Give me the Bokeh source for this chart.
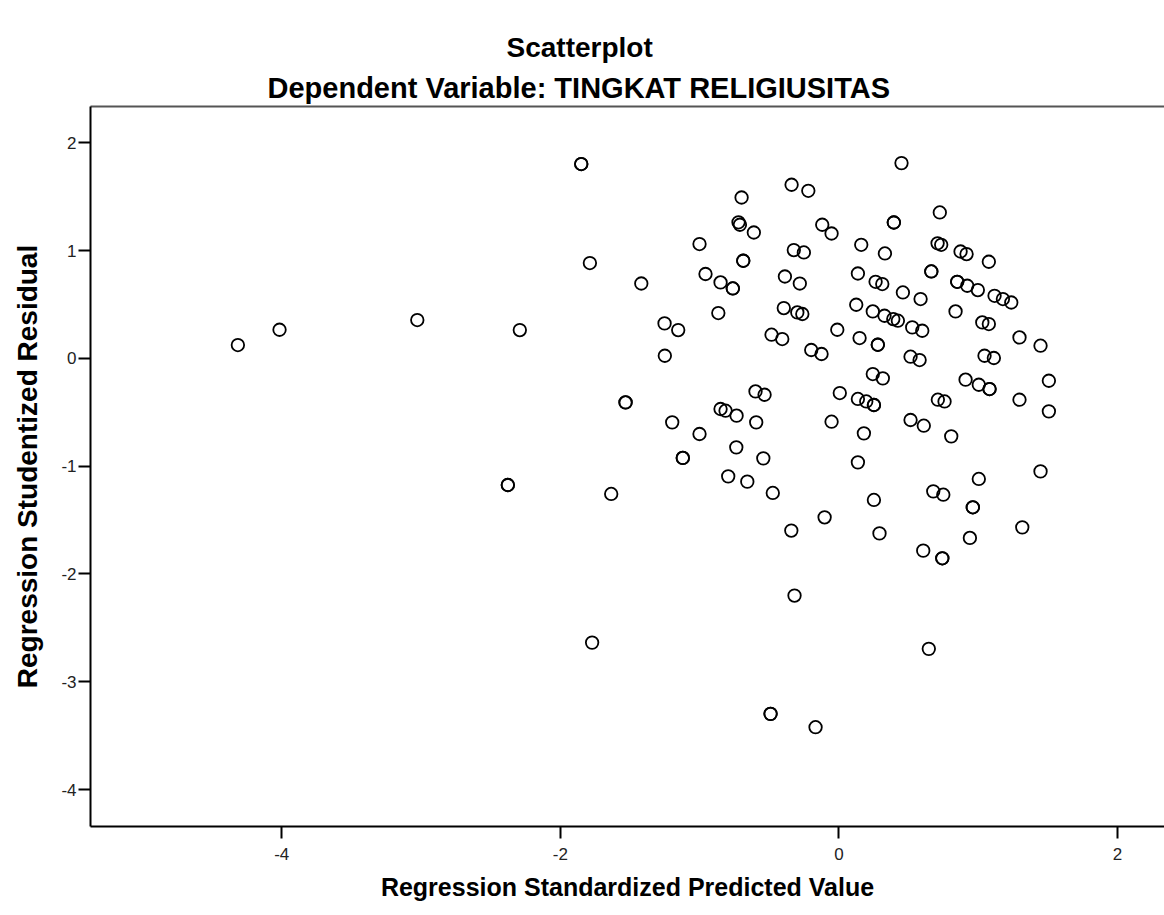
from bokeh.plotting import figure
from bokeh.models import (Range1d, LinearAxis, FixedTicker, Title, ColumnDataSource,
                          CustomJSTickFormatter)
from bokeh.embed import file_html
from bokeh.resources import INLINE

# Data
pred_value = [
    -4.315, -4.016, -3.027, -2.291, -2.377, -2.377, -1.850, -1.850, -1.788, -1.772,
    -1.635, -1.532, -1.532, -1.419, -1.252, -1.154, -1.250, -1.197, -1.001, -1.121,
    -1.121, -1.001, -0.958, -0.866, -0.850, -0.762, -0.762, -0.850, -0.814, -0.735,
    -0.795, -0.737, -0.658, -0.699, -0.711, -0.721, -0.611, -0.687, -0.687, -0.599,
    -0.534, -0.594, -0.543, -0.475, -0.484, -0.407, -0.396, -0.299, -0.263, -0.388,
    -0.281, -0.340, -0.220, -0.324, -0.252, -0.199, -0.125, -0.120, -0.053, -0.012,
    0.006, -0.053, -0.103, -0.342, -0.319, -0.491, -0.491, -0.168, 0.449, 0.724,
    0.394, 0.394, 0.160, 0.330, 0.734, 0.708, 0.873, 0.916, 1.076, 0.136,
    0.263, 0.311, 0.459, 0.586, 0.663, 0.663, 0.849, 0.849, 0.921, 0.997,
    1.117, 1.177, 1.237, 0.124, 0.243, 0.327, 0.390, 0.423, 0.837, 1.029,
    1.076, 0.526, 0.598, 0.148, 0.279, 0.279, 1.296, 1.447, 0.514, 0.579,
    1.045, 1.112, 0.243, 0.315, 0.136, 0.196, 0.251, 0.251, 0.909, 1.004,
    1.081, 1.081, 0.710, 0.758, 1.296, 1.507, 1.507, 0.514, 0.609, 0.806,
    0.179, 0.136, 1.447, 1.004, 0.677, 0.749, 0.961, 0.961, 0.251, 1.316,
    0.291, 0.940, 0.605, 0.742, 0.742, 0.645,
]
stud_residual = [
    0.123, 0.265, 0.355, 0.262, -1.175, -1.175, 1.802, 1.802, 0.884, -2.637,
    -1.258, -0.409, -0.409, 0.694, 0.324, 0.262, 0.024, -0.594, -0.702, -0.924,
    -0.924, 1.060, 0.782, 0.420, 0.704, 0.648, 0.648, -0.470, -0.486, -0.532,
    -1.095, -0.826, -1.144, 1.492, 1.239, 1.262, 1.167, 0.905, 0.905, -0.307,
    -0.338, -0.594, -0.928, -1.249, 0.219, 0.179, 0.466, 0.426, 0.411, 0.759,
    0.694, 1.610, 1.554, 1.004, 0.982, 0.077, 0.040, 1.239, 1.158, 0.265,
    -0.322, -0.588, -1.475, -1.598, -2.201, -3.298, -3.298, -3.422, 1.811, 1.353,
    1.260, 1.260, 1.053, 0.973, 1.053, 1.067, 0.991, 0.967, 0.896, 0.787,
    0.710, 0.689, 0.611, 0.550, 0.806, 0.806, 0.710, 0.710, 0.673, 0.633,
    0.580, 0.550, 0.518, 0.497, 0.435, 0.395, 0.364, 0.349, 0.435, 0.333,
    0.318, 0.287, 0.256, 0.188, 0.126, 0.126, 0.194, 0.117, 0.015, -0.016,
    0.024, 0.003, -0.146, -0.186, -0.377, -0.400, -0.433, -0.433, -0.198, -0.245,
    -0.285, -0.285, -0.384, -0.400, -0.384, -0.208, -0.492, -0.572, -0.625, -0.724,
    -0.696, -0.965, -1.049, -1.119, -1.234, -1.265, -1.382, -1.382, -1.314, -1.568,
    -1.624, -1.666, -1.784, -1.855, -1.855, -2.695,
]
x_ticks = [-4, -2, 0, 2]
y_ticks = [-4, -3, -2, -1, 0, 1, 2]

main_title = "Scatterplot"
sub_title = "Dependent Variable: TINGKAT RELIGIUSITAS"
x_label = "Regression Standardized Predicted Value"
y_label = "Regression Studentized Residual"

FONT = "Liberation Sans"

p = figure(width=1164, height=915, output_backend="svg", toolbar_location=None,
           x_range=Range1d(-5.373, 2.337), y_range=Range1d(-4.343, 2.336),
           x_axis_location=None, y_axis_location=None,
           min_border_left=90, min_border_right=0, min_border_top=106, min_border_bottom=89)
p.background_fill_color = "white"
p.border_fill_color = "white"
p.outline_line_color = None
p.xgrid.visible = False
p.ygrid.visible = False

plain = CustomJSTickFormatter(code="return tick.toString();")

# Left axis
yaxis = LinearAxis(ticker=FixedTicker(ticks=y_ticks), axis_label=y_label, formatter=plain)
yaxis.axis_line_color = "black"
yaxis.axis_line_width = 2
yaxis.major_tick_line_color = "black"
yaxis.major_tick_line_width = 2
yaxis.major_tick_out = 12
yaxis.major_tick_in = 0
yaxis.minor_tick_line_color = None
yaxis.major_label_standoff = 2
yaxis.major_label_text_font = FONT
yaxis.major_label_text_font_size = "17px"
yaxis.major_label_text_color = "#222222"
yaxis.axis_label_text_font = FONT
yaxis.axis_label_text_font_size = "28px"
yaxis.axis_label_text_font_style = "bold"
yaxis.axis_label_text_color = "black"
yaxis.axis_label_standoff = 15
p.add_layout(yaxis, "left")

# Bottom axis
xaxis = LinearAxis(ticker=FixedTicker(ticks=x_ticks), axis_label=x_label, formatter=plain)
xaxis.axis_line_color = "black"
xaxis.axis_line_width = 2
xaxis.major_tick_line_color = "black"
xaxis.major_tick_line_width = 2
xaxis.major_tick_out = 12
xaxis.major_tick_in = 0
xaxis.minor_tick_line_color = None
xaxis.major_label_standoff = 9
xaxis.major_label_text_font = FONT
xaxis.major_label_text_font_size = "17px"
xaxis.major_label_text_color = "#222222"
xaxis.axis_label_text_font = FONT
xaxis.axis_label_text_font_size = "25px"
xaxis.axis_label_text_font_style = "bold"
xaxis.axis_label_text_color = "black"
xaxis.axis_label_standoff = 10
p.add_layout(xaxis, "below")

# Top frame line
topaxis = LinearAxis(ticker=FixedTicker(ticks=[]))
topaxis.axis_line_color = "#555555"
topaxis.axis_line_width = 2
topaxis.major_tick_line_color = None
topaxis.major_tick_out = 0
topaxis.major_tick_in = 0
topaxis.minor_tick_line_color = None
topaxis.major_label_standoff = 0
topaxis.major_label_text_font_size = "0px"
p.add_layout(topaxis, "above")

src = ColumnDataSource(dict(x=pred_value, y=stud_residual))
p.scatter("x", "y", source=src, marker="circle", size=12.5, fill_color=None,
          line_color="black", line_width=1.8)

p.add_layout(Title(text=sub_title, align="left", offset=177, standoff=6, text_font=FONT,
                   text_font_size="29px", text_font_style="bold", text_color="black"), "above")
p.add_layout(Title(text=main_title, align="left", offset=416, standoff=8, text_font=FONT,
                   text_font_size="28px", text_font_style="bold", text_color="black"), "above")

open("out.html", "w").write(file_html(p, INLINE))
